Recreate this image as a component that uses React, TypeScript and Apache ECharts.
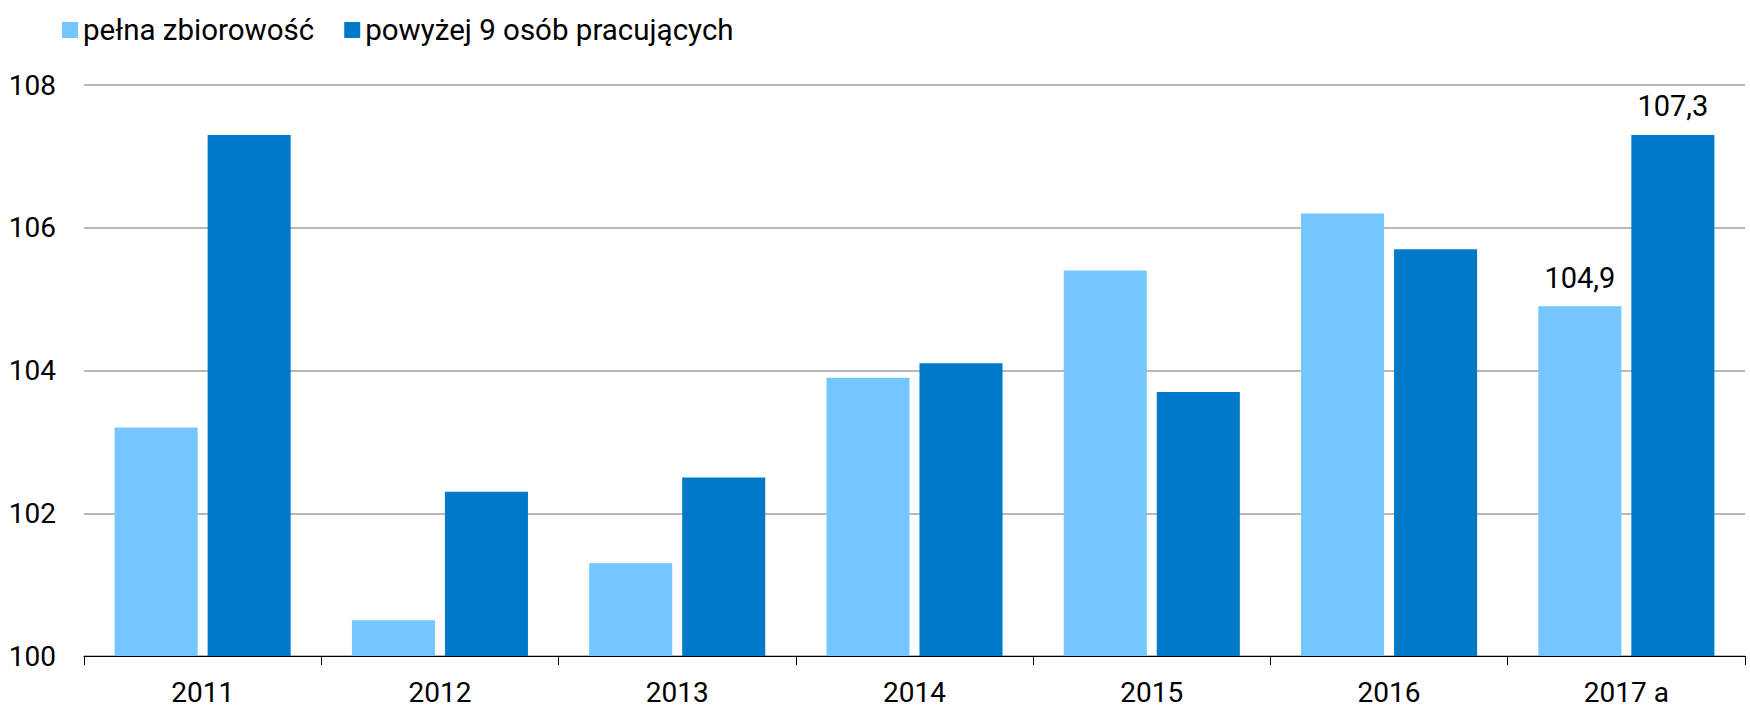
import React, { useEffect, useRef } from "react";
import * as echarts from "echarts";

const categories = ["2011", "2012", "2013", "2014", "2015", "2016", "2017 a"];
const fullValues = [103.2, 100.5, 101.3, 103.9, 105.4, 106.2, 104.9];
const over9Values = [107.3, 102.3, 102.5, 104.1, 103.7, 105.7, 107.3];
const seriesNames = ["pełna zbiorowość", "powyżej 9 osób pracujących"];
const labelIndex = [6];

const FONT = "Roboto";

export default function App() {
  const ref = useRef<HTMLDivElement>(null);
  useEffect(() => {
    if (!ref.current) return;
    const chart = echarts.init(ref.current, undefined, { renderer: "svg" });
    const fmt = (p: any) => String(p.value).replace(".", ",");
    const mk = (vals: number[]) =>
      vals.map((v, i) =>
        labelIndex.includes(i)
          ? { value: v, label: { show: true, position: "top", distance: 14, formatter: fmt } }
          : v
      );
    chart.setOption({
      animation: false,
      textStyle: { fontFamily: FONT },
      legend: {
        left: 57,
        top: 10,
        itemWidth: 16,
        itemHeight: 16,
        itemGap: 30,
        icon: "rect",
        textStyle: { fontSize: 29.5, color: "#000", fontFamily: FONT },
        data: seriesNames,
      },
      grid: { left: 84, right: 5, top: 85, bottom: 52, containLabel: false, outerBoundsMode: "none" },
      xAxis: {
        type: "category",
        data: categories,
        axisLine: { lineStyle: { color: "#000", width: 1 } },
        axisTick: { show: true, length: 9, lineStyle: { color: "#000" } },
        axisLabel: { fontSize: 28, lineHeight: 26, color: "#000", margin: 23, fontFamily: FONT },
      },
      yAxis: {
        type: "value",
        min: 100,
        max: 108,
        interval: 2,
        axisLine: { show: false },
        axisTick: { show: false },
        axisLabel: { fontSize: 28, color: "#000", margin: 28, fontFamily: FONT },
        splitLine: { lineStyle: { color: "#A0A0A0", width: 1.5 } },
      },
      series: [
        {
          name: seriesNames[0],
          type: "bar",
          data: mk(fullValues),
          itemStyle: { color: "#75C6FE" },
          barWidth: "35%",
          barGap: "12%",
          label: { fontSize: 29, color: "#000", fontFamily: FONT },
        },
        {
          name: seriesNames[1],
          type: "bar",
          data: mk(over9Values),
          itemStyle: { color: "#0079C8" },
          barWidth: "35%",
          label: { fontSize: 29, color: "#000", fontFamily: FONT },
        },
      ],
    });
    return () => chart.dispose();
  }, []);
  return <div ref={ref} style={{ position: "absolute", left: 0, top: 0, width: 1750, height: 708 }} />;
}
